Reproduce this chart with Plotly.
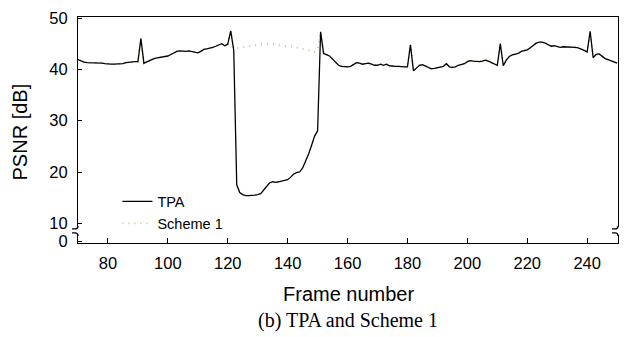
import plotly.graph_objects as go

frames = list(range(70, 251))

tpa = [
    41.9, 41.6, 41.4, 41.3, 41.3, 41.2, 41.2, 41.2, 41.2, 41.1,  # 70-79
    41.0, 41.0, 41.0, 41.0, 41.0, 41.1, 41.3, 41.4, 41.4, 41.5,  # 80-89
    41.5, 46.0, 41.2, 41.5, 41.7, 42.0, 42.2, 42.3, 42.4, 42.5,  # 90-99
    42.6, 42.9, 43.2, 43.5, 43.6, 43.5, 43.5, 43.6, 43.5, 43.3,  # 100-109
    43.2, 43.5, 43.9, 44.0, 44.1, 44.3, 44.5, 44.8, 45.0, 44.6,  # 110-119
    44.9, 47.5, 43.7, 17.5, 16.0, 15.6, 15.4, 15.4, 15.4, 15.5,  # 120-129
    15.6, 15.8, 16.5, 17.3, 17.9, 18.1, 18.0, 18.1, 18.2, 18.3,  # 130-139
    18.5, 19.0, 19.6, 19.9, 20.0, 20.8, 22.0, 23.5, 25.2, 27.0,  # 140-149
    28.0, 47.3, 43.1, 42.9, 42.6, 42.0, 41.3, 40.8, 40.6, 40.5,  # 150-159
    40.5, 40.6, 41.0, 41.3, 41.2, 41.0, 41.1, 41.2, 41.0, 40.8,  # 160-169
    40.8, 41.0, 40.8, 41.0, 40.7, 40.6, 40.6, 40.6, 40.5, 40.5,  # 170-179
    40.5, 44.8, 39.7, 40.3, 40.8, 40.9, 40.6, 40.3, 40.1, 40.2,  # 180-189
    40.3, 40.4, 40.6, 41.1, 40.5, 40.4, 40.5, 40.8, 41.0, 41.1,  # 190-199
    41.5, 41.7, 41.6, 41.5, 41.5, 41.6, 41.8, 41.6, 41.3, 41.0,  # 200-209
    40.8, 45.0, 40.7, 41.8, 42.5, 42.8, 42.9, 43.1, 43.5, 43.7,  # 210-219
    43.8, 44.2, 44.7, 45.1, 45.3, 45.3, 45.1, 44.8, 44.5, 44.6,  # 220-229
    44.4, 44.3, 44.4, 44.4, 44.4, 44.3, 44.3, 44.2, 44.0, 43.7,  # 230-239
    43.4, 47.4, 42.3, 42.9, 43.0, 42.6, 42.1, 41.9, 41.7, 41.5,  # 240-249
    41.2,                                                        # 250
]

# Scheme 1 differs from TPA only in the lost-frame stretch 122-150
scheme1_gap = [
    44.0, 44.1, 44.2, 44.4, 44.5, 44.6, 44.6, 44.7, 44.7, 44.8,  # 122-131
    44.8, 44.9, 44.8, 44.9, 44.8, 44.7, 44.6, 44.6, 44.5, 44.5,  # 132-141
    44.4, 44.3, 44.2, 44.1, 43.9, 43.7, 43.5, 43.4, 43.7,        # 142-150
]
scheme1 = tpa[:122 - 70] + scheme1_gap + tpa[151 - 70:]

y_tick_text = ["0", "10", "20", "30", "40", "50"]
y_tick_vals = [6.55, 10, 20, 30, 40, 50]
x_tick_vals = [80, 100, 120, 140, 160, 180, 200, 220, 240]

fig = go.Figure()
fig.add_trace(go.Scatter(x=frames, y=scheme1, mode="lines", name="Scheme 1",
                         line=dict(color="rgb(205,190,135)", width=2, dash="1px,5px")))
fig.add_trace(go.Scatter(x=frames, y=tpa, mode="lines", name="TPA",
                         line=dict(color="black", width=1.3)))

axis_font = dict(family="Liberation Sans, Arial", size=16.5, color="black")

fig.update_layout(
    width=628, height=337,
    margin=dict(l=78, r=9, t=13, b=94),
    paper_bgcolor="white", plot_bgcolor="white",
    showlegend=True,
    legend=dict(x=0.073, y=0.255, xanchor="left", yanchor="top",
                traceorder="reversed",
                bgcolor="rgba(0,0,0,0)", font=dict(family="Liberation Sans, Arial", size=14.5, color="black"),
                tracegroupgap=0),
    xaxis=dict(range=[70, 250.3], tickvals=x_tick_vals, ticks="inside", ticklen=5,
               tickcolor="black", showline=True, linecolor="black", linewidth=1.2,
               mirror=True, showgrid=False, zeroline=False, tickfont=axis_font,
               ticklabelstandoff=5),
    yaxis=dict(range=[6.17, 50.2], tickvals=y_tick_vals, ticktext=y_tick_text,
               ticks="inside", ticklen=4, tickcolor="black", showline=True,
               linecolor="black", linewidth=1.2, mirror=True, showgrid=False,
               zeroline=False, tickfont=axis_font, ticklabelstandoff=6),
    annotations=[
        dict(text="Frame number", xref="paper", yref="paper", x=0.5, y=-0.226,
             xanchor="center", yanchor="middle", showarrow=False,
             font=dict(family="Liberation Sans, Arial", size=20, color="black")),
        dict(text="(b) TPA and Scheme 1", xref="paper", yref="paper", x=0.5, y=-0.342,
             xanchor="center", yanchor="middle", showarrow=False,
             font=dict(family="Liberation Serif, Times New Roman", size=20, color="black")),
        dict(text="PSNR [dB]", xref="paper", yref="paper", x=-0.107, y=0.49,
             xanchor="center", yanchor="middle", showarrow=False, textangle=-90,
             font=dict(family="Liberation Sans, Arial", size=20, color="black")),
    ],
)

# axis-break marks (decoration)
shapes = []
for side in (0, 1):
    shapes.append(dict(type="rect", xref="paper", yref="y", xsizemode="pixel",
                       xanchor=side, x0=-5, x1=5, y0=7.75, y1=9.3,
                       fillcolor="white", line=dict(width=0), layer="above"))
for side in (0, 1):
    shapes.append(dict(type="path", xref="paper", yref="y", xsizemode="pixel", ysizemode="pixel",
                       xanchor=side, yanchor=9.3, layer="above",
                       path="M 0 1 Q 0 -2 -3 -2 L -6 -2", line=dict(color="black", width=1.3)))
    shapes.append(dict(type="path", xref="paper", yref="y", xsizemode="pixel", ysizemode="pixel",
                       xanchor=side, yanchor=7.75, layer="above",
                       path="M 0 -1 Q 0 2 -3 2 L -6 2", line=dict(color="black", width=1.3)))
fig.update_layout(shapes=shapes)

fig.write_html("out.html")
